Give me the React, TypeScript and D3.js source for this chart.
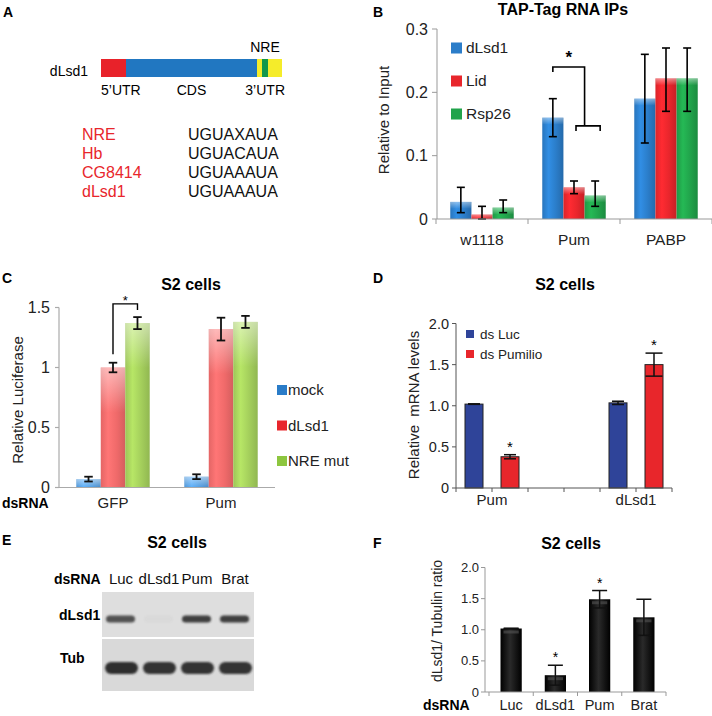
import React from "react";
import * as d3 from "d3";

const FONT = "'Liberation Sans', Arial, Helvetica, sans-serif";

// ---------- Panel A data ----------
const aSegmentNames = ["5’UTR", "CDS", "3’UTR-a", "NRE", "3’UTR-b"];
const aSegmentLengths = [25, 131, 5, 6, 14];
const aSegmentColors = ["#e8222a", "#2177c1", "#f5ec2a", "#12984a", "#f5ec2a"];
const aRegionLabels = ["5’UTR", "CDS", "3’UTR"];
const aMotifNames = ["NRE", "Hb", "CG8414", "dLsd1"];
const aMotifSeqs = ["UGUAXAUA", "UGUACAUA", "UGUAAAUA", "UGUAAAUA"];

// ---------- Panel B data ----------
const bCategories = ["w1118", "Pum", "PABP"];
const bSeries = ["dLsd1", "Lid", "Rsp26"];
const bValues = [
  [0.027, 0.007, 0.018],
  [0.16, 0.05, 0.037],
  [0.19, 0.222, 0.222],
];
const bErrLow = [
  [0.01, 0.0, 0.01],
  [0.13, 0.04, 0.02],
  [0.12, 0.17, 0.17],
];
const bErrHigh = [
  [0.05, 0.02, 0.03],
  [0.19, 0.06, 0.06],
  [0.26, 0.27, 0.27],
];
const bTicks = [0, 0.1, 0.2, 0.3];
const bTickLabels = ["0", "0.1", "0.2", "0.3"];
const bColors = ["#2b7dc9", "#e8262c", "#21a34b"];

// ---------- Panel C data ----------
const cCategories = ["GFP", "Pum"];
const cSeries = ["mock", "dLsd1", "NRE mut"];
const cValues = [
  [0.07, 1.0, 1.37],
  [0.09, 1.32, 1.38],
];
const cErr = [
  [0.02, 0.04, 0.05],
  [0.02, 0.095, 0.05],
];
const cTicks = [0, 0.5, 1, 1.5];
const cTickLabels = ["0", "0.5", "1", "1.5"];
const cColors = ["#4f9be0", "#f06a6a", "#a4cf5c"];
const cLegendColors = ["#2a7cc8", "#e8262c", "#8dc63f"];

// ---------- Panel D data ----------
const dGenes = ["Pum", "dLsd1"];
const dSeries = ["ds Luc", "ds Pumilio"];
const dValues = [
  [1.02, 0.38],
  [1.035, 1.5],
];
const dErr = [
  [0.003, 0.025],
  [0.02, 0.14],
];
const dSig = [
  [false, true],
  [false, true],
];
const dTicks = [0, 0.5, 1, 1.5, 2];
const dTickLabels = ["0", "0.5", "1.0", "1.5", "2.0"];
const dColors = ["#2f4499", "#e8262b"];

// ---------- Panel E data ----------
const eLanes = ["Luc", "dLsd1", "Pum", "Brat"];
const eRows = ["dLsd1", "Tub"];
const eDLsd1Intensity = [0.8, 0.025, 0.9, 0.9];
const eTubIntensity = [1, 0.97, 0.97, 0.97];

// ---------- Panel F data ----------
const fCategories = ["Luc", "dLsd1", "Pum", "Brat"];
const fValues = [1.02, 0.27, 1.49, 1.2];
const fErr = [0.005, 0.16, 0.14, 0.29];
const fSig = [false, true, true, false];
const fTicks = [0, 0.5, 1, 1.5, 2];
const fTickLabels = ["0", "0.5", "1.0", "1.5", "2.0"];

function ErrBar({ x, yTop, yBot, cap, sw = 1.5, color = "#000" }: any) {
  return (
    <g stroke={color} strokeWidth={sw} fill="none">
      <line x1={x} x2={x} y1={yTop} y2={yBot} />
      <line x1={x - cap / 2} x2={x + cap / 2} y1={yTop} y2={yTop} />
      <line x1={x - cap / 2} x2={x + cap / 2} y1={yBot} y2={yBot} />
    </g>
  );
}

function hGrad(id: string, c: string, light = 0.45, dark = 0.45) {
  const base = d3.color(c)!;
  return (
    <linearGradient id={id} key={id} x1="0" x2="1" y1="0" y2="0">
      <stop offset="0" stopColor={base.darker(dark * 0.4).formatHex()} />
      <stop offset="0.3" stopColor={base.brighter(light).formatHex()} />
      <stop offset="0.65" stopColor={base.formatHex()} />
      <stop offset="1" stopColor={base.darker(dark).formatHex()} />
    </linearGradient>
  );
}

function PanelA() {
  const total = d3.sum(aSegmentLengths);
  const x = d3.scaleLinear().domain([0, total]).range([101, 282]);
  const starts = d3.cumsum([0, ...aSegmentLengths]);
  const nreIdx = aSegmentNames.indexOf("NRE");
  const rowY = d3.scalePoint().domain(aMotifNames).range([140, 197]);
  return (
    <g>
      <text x={3} y={17} fontSize={14} fontWeight="bold">A</text>
      {aSegmentLengths.map((len, i) => (
        <rect key={i} x={x(starts[i])} y={59} width={x(starts[i] + len) - x(starts[i])} height={18} fill={aSegmentColors[i]} />
      ))}
      <text x={88} y={76} fontSize={14} textAnchor="end">dLsd1</text>
      <text x={(x(starts[nreIdx]) + x(starts[nreIdx + 1])) / 2} y={52} fontSize={14} textAnchor="middle">NRE</text>
      <text x={x(0)} y={95} fontSize={14}>{aRegionLabels[0]}</text>
      <text x={(x(starts[1]) + x(starts[2])) / 2} y={95} fontSize={14} textAnchor="middle">{aRegionLabels[1]}</text>
      <text x={x(total) + 3} y={95} fontSize={14} textAnchor="end">{aRegionLabels[2]}</text>
      {aMotifNames.map((n, i) => (
        <g key={n}>
          <text x={82} y={rowY(n)} fontSize={16} fill="#e8262c">{n}</text>
          <text x={188} y={rowY(n)} fontSize={16} fill="#111">{aMotifSeqs[i]}</text>
        </g>
      ))}
    </g>
  );
}

function PanelB() {
  const y = d3.scaleLinear().domain([0, 0.3]).range([219, 29]);
  const x0 = d3.scaleBand().domain(bCategories).range([436, 712]);
  const groupW = x0.bandwidth() * 0.69;
  const off = (x0.bandwidth() - groupW) / 2;
  const x1 = d3.scaleBand().domain(bSeries).range([0, groupW]);
  const bw = x1.bandwidth();
  const cx = (ci: number, si: number) => x0(bCategories[ci])! + off + x1(bSeries[si])! + bw / 2;
  const legendY = d3.scalePoint().domain(bSeries).range([48, 114]);
  const bounds = [...bCategories.map((c) => x0(c)!), x0.range()[1]];
  const pi = bCategories.indexOf("Pum");
  const lx = cx(pi, 0);
  const rmid = (cx(pi, 1) + cx(pi, 2)) / 2;
  const topY = y(0.24);
  const lowY = y(0.147);
  return (
    <g>
      <text x={373} y={17} fontSize={14} fontWeight="bold">B</text>
      <text x={563} y={15} fontSize={16} fontWeight="bold" textAnchor="middle">TAP-Tag RNA IPs</text>
      <text transform={`translate(383,120) rotate(-90)`} fontSize={15} textAnchor="middle" dominantBaseline="central" fill="#222">Relative to Input</text>
      {bValues.map((row, ci) =>
        row.map((v, si) => (
          <g key={`${ci}-${si}`}>
            <rect x={cx(ci, si) - bw / 2} y={y(v)} width={bw} height={y(0) - y(v)} fill={`url(#gB${si})`} />
            <rect x={cx(ci, si) - bw / 2} y={y(v)} width={bw} height={Math.min(7, y(0) - y(v))} fill="url(#shine)" />
          </g>
        ))
      )}
      {bValues.map((row, ci) =>
        row.map((v, si) => (
          <ErrBar key={`e${ci}-${si}`} x={cx(ci, si)} yTop={y(bErrHigh[ci][si])} yBot={y(bErrLow[ci][si])} cap={8} sw={1.6} />
        ))
      )}
      <g stroke="#999" strokeWidth={1}>
        <line x1={437} x2={437} y1={y(0.3)} y2={y(0)} />
        {bTicks.map((t) => (
          <line key={t} x1={432} x2={437} y1={y(t)} y2={y(t)} />
        ))}
        <line x1={437} x2={712} y1={y(0)} y2={y(0)} />
        {bounds.map((b, i) => (
          <line key={i} x1={b} x2={b} y1={y(0)} y2={y(0) + 5} />
        ))}
      </g>
      {bTicks.map((t, i) => (
        <text key={t} x={428} y={y(t)} dy="0.35em" fontSize={16} textAnchor="end" fill="#222">{bTickLabels[i]}</text>
      ))}
      {bCategories.map((c) => (
        <text key={c} x={x0(c)! + x0.bandwidth() / 2} y={245} fontSize={15.5} textAnchor="middle" fill="#222">{c}</text>
      ))}
      {bSeries.map((s, i) => (
        <g key={s}>
          <rect x={451} y={legendY(s)! - 5.5} width={11} height={11} fill={bColors[i]} />
          <text x={466} y={legendY(s)} dy="0.35em" fontSize={15.5} fill="#222">{s}</text>
        </g>
      ))}
      <g stroke="#000" strokeWidth={1.6} fill="none">
        <polyline points={`${lx},${topY + 5} ${lx},${topY} ${rmid},${topY} ${rmid},${lowY}`} />
        <polyline points={`${cx(pi, 1) + 2},${lowY + 5} ${cx(pi, 1) + 2},${lowY} ${cx(pi, 2) + 5},${lowY} ${cx(pi, 2) + 5},${lowY + 5}`} />
      </g>
      <text x={(lx + rmid) / 2} y={63} fontSize={17} textAnchor="middle" fontWeight="bold">*</text>
    </g>
  );
}

function PanelC() {
  const y = d3.scaleLinear().domain([0, 1.5]).range([487.5, 307.5]);
  const x0 = d3.scaleBand().domain(cCategories).range([59, 275]);
  const groupW = x0.bandwidth() * 0.68;
  const off = (x0.bandwidth() - groupW) / 2;
  const x1 = d3.scaleBand().domain(cSeries).range([0, groupW]);
  const bw = x1.bandwidth();
  const cx = (ci: number, si: number) => x0(cCategories[ci])! + off + x1(cSeries[si])! + bw / 2;
  const legendY = d3.scalePoint().domain(cSeries).range([390, 461]);
  const lx = cx(0, 1);
  const rx = cx(0, 2);
  return (
    <g>
      <text x={2} y={283} fontSize={14} fontWeight="bold">C</text>
      <text x={191} y={290} fontSize={16} fontWeight="bold" textAnchor="middle">S2 cells</text>
      <text transform={`translate(17,400) rotate(-90)`} fontSize={15} textAnchor="middle" dominantBaseline="central" fill="#222">Relative Luciferase</text>
      {cValues.map((row, ci) =>
        row.map((v, si) => (
          <g key={`${ci}-${si}`}>
            <rect x={cx(ci, si) - bw / 2} y={y(v)} width={bw} height={y(0) - y(v)} fill={`url(#gC${si})`} />
            <rect x={cx(ci, si) - bw / 2} y={y(v)} width={bw} height={Math.min(45, y(0) - y(v))} fill="url(#shineC)" />
          </g>
        ))
      )}
      {cValues.map((row, ci) =>
        row.map((v, si) => (
          <ErrBar key={`e${ci}-${si}`} x={cx(ci, si)} yTop={y(v + cErr[ci][si])} yBot={y(v - cErr[ci][si])} cap={8.5} sw={1.8} color="#111" />
        ))
      )}
      <g stroke="#aaa" strokeWidth={1.2}>
        <line x1={59} x2={59} y1={y(1.5)} y2={y(0)} />
        {cTicks.map((t) => (
          <line key={t} x1={55} x2={59} y1={y(t)} y2={y(t)} />
        ))}
        <line x1={59} x2={275} y1={y(0)} y2={y(0)} />
      </g>
      {cTicks.map((t, i) => (
        <text key={t} x={50} y={y(t)} dy="0.35em" fontSize={16} textAnchor="end" fill="#222">{cTickLabels[i]}</text>
      ))}
      <text x={2} y={508} fontSize={14} fontWeight="bold">dsRNA</text>
      {cCategories.map((c) => (
        <text key={c} x={x0(c)! + x0.bandwidth() / 2} y={508} fontSize={15} textAnchor="middle" fill="#222">{c}</text>
      ))}
      {cSeries.map((s, i) => (
        <g key={s}>
          <rect x={277} y={legendY(s)! - 5} width={10} height={10} fill={cLegendColors[i]} />
          <text x={288} y={legendY(s)} dy="0.35em" fontSize={15} fill="#222">{s}</text>
        </g>
      ))}
      <g stroke="#000" strokeWidth={1.4} fill="none">
        <polyline points={`${lx},${y(1.11)} ${lx},${y(1.53)} ${rx},${y(1.53)} ${rx},${y(1.48)}`} />
      </g>
      <text x={(lx + rx) / 2} y={305} fontSize={13} textAnchor="middle">*</text>
    </g>
  );
}

function PanelD() {
  const y = d3.scaleLinear().domain([0, 2]).range([488, 323.5]);
  const nSlots = 6;
  const slotScale = d3.scaleLinear().domain([0, nSlots]).range([456, 672]);
  const xs = d3.scaleBand<number>().domain(d3.range(nSlots)).range([456, 672]).paddingInner(0.5).paddingOuter(0.25);
  const bw = xs.bandwidth();
  const slotOf = (g: number, k: number) => g * 4 + k;
  const legendY = d3.scalePoint().domain(dSeries).range([334, 354]);
  return (
    <g>
      <text x={373} y={283} fontSize={14} fontWeight="bold">D</text>
      <text x={565} y={290} fontSize={16} fontWeight="bold" textAnchor="middle">S2 cells</text>
      <text transform={`translate(413,405) rotate(-90)`} fontSize={15} textAnchor="middle" dominantBaseline="central" fill="#222" style={{ whiteSpace: "pre" }}>{"Relative  mRNA levels"}</text>
      {dValues.map((row, g) =>
        row.map((v, k) => (
          <rect key={`${g}-${k}`} x={xs(slotOf(g, k))!} y={y(v)} width={bw} height={y(0) - y(v)} fill={dColors[k]} stroke="#222" strokeWidth={1} />
        ))
      )}
      {dValues.map((row, g) =>
        row.map((v, k) => (
          <ErrBar key={`e${g}-${k}`} x={xs(slotOf(g, k))! + bw / 2} yTop={y(v + dErr[g][k])} yBot={y(v - dErr[g][k])} cap={k === 1 && g === 1 ? 17 : 12} sw={1.5} color="#111" />
        ))
      )}
      {dValues.map((row, g) =>
        row.map((v, k) =>
          dSig[g][k] ? (
            <text key={`s${g}-${k}`} x={xs(slotOf(g, k))! + bw / 2} y={y(v + dErr[g][k]) - 3} fontSize={15} textAnchor="middle">*</text>
          ) : null
        )
      )}
      <g stroke="#555" strokeWidth={1}>
        <line x1={456} x2={456} y1={y(2)} y2={y(0)} />
        {dTicks.map((t) => (
          <line key={t} x1={452} x2={456} y1={y(t)} y2={y(t)} />
        ))}
        <line x1={456} x2={672} y1={y(0)} y2={y(0)} />
        {d3.range(nSlots + 1).map((i) => (
          <line key={i} x1={slotScale(i)} x2={slotScale(i)} y1={y(0)} y2={y(0) + 4} />
        ))}
      </g>
      {dTicks.map((t, i) => (
        <text key={t} x={449} y={y(t)} dy="0.35em" fontSize={14.5} textAnchor="end" fill="#222">{dTickLabels[i]}</text>
      ))}
      {dGenes.map((gname, g) => (
        <text key={gname} x={slotScale(g * 4 + 1)} y={505} fontSize={15} textAnchor="middle" fill="#222">{gname}</text>
      ))}
      {dSeries.map((s, i) => (
        <g key={s}>
          <rect x={466} y={legendY(s)! - 4} width={8} height={8} fill={dColors[i]} />
          <text x={480} y={legendY(s)} dy="0.35em" fontSize={13.5} fill="#222">{s}</text>
        </g>
      ))}
    </g>
  );
}

function PanelE() {
  const x = d3.scaleBand().domain(eLanes).range([102, 254]);
  const step = x.bandwidth();
  const rowTops = [592, 639];
  const rowBottoms = [637, 691];
  const bandY = [619, 668];
  const bandH = [7, 12];
  const intens = [eDLsd1Intensity, eTubIntensity];
  return (
    <g>
      <text x={2} y={545} fontSize={14} fontWeight="bold">E</text>
      <text x={177} y={548} fontSize={16} fontWeight="bold" textAnchor="middle">S2 cells</text>
      <text x={54} y={584} fontSize={14} fontWeight="bold">dsRNA</text>
      {eLanes.map((l) => (
        <text key={l} x={x(l)! + step / 2} y={584} fontSize={15} textAnchor="middle" fill="#111">{l}</text>
      ))}
      {eRows.map((r, ri) => (
        <g key={r}>
          <rect x={102} y={rowTops[ri]} width={152} height={rowBottoms[ri] - rowTops[ri]} fill={ri === 0 ? "#dedede" : "#d9d9d9"} />
          {eLanes.map((l, li) => (
            <rect key={l} x={x(l)! + 3 + (ri === 0 ? 1 : 0)} y={bandY[ri] - bandH[ri] / 2} width={step - (ri === 0 ? 9 : 5)} height={bandH[ri]} rx={bandH[ri] / 2}
              fill="#2e2e2e" opacity={intens[ri][li]} filter="url(#blur)" />
          ))}
        </g>
      ))}
      <text x={59} y={620} fontSize={14} fontWeight="bold">dLsd1</text>
      <text x={60} y={663} fontSize={14} fontWeight="bold">Tub</text>
    </g>
  );
}

function PanelF() {
  const y = d3.scaleLinear().domain([0, 2]).range([692, 567.5]);
  const x = d3.scaleBand().domain(fCategories).range([489, 666]).paddingInner(0.52).paddingOuter(0.26);
  const bw = x.bandwidth();
  const step = x.step();
  const startEdge = 489;
  return (
    <g>
      <text x={373} y={548} fontSize={14} fontWeight="bold">F</text>
      <text x={571} y={549} fontSize={16} fontWeight="bold" textAnchor="middle">S2 cells</text>
      <text transform={`translate(437,621) rotate(-90)`} fontSize={14} textAnchor="middle" dominantBaseline="central" fill="#222">dLsd1/ Tubulin ratio</text>
      {fValues.map((v, i) => (
        <g key={i}>
          <rect x={x(fCategories[i])!} y={y(v)} width={bw} height={y(0) - y(v)} fill="url(#gF)" />
          <rect x={x(fCategories[i])! + 3} y={y(v) + 2} width={bw - 6} height={Math.min(3, y(0) - y(v))} fill="#555" opacity={0.6} />
        </g>
      ))}
      {fValues.map((v, i) => (
        <ErrBar key={`e${i}`} x={x(fCategories[i])! + bw / 2} yTop={y(v + fErr[i])} yBot={y(v - fErr[i])} cap={15} sw={1.5} color="#111" />
      ))}
      {fValues.map((v, i) =>
        fSig[i] ? (
          <text key={`s${i}`} x={x(fCategories[i])! + bw / 2} y={y(v + fErr[i]) - 3} fontSize={14} textAnchor="middle">*</text>
        ) : null
      )}
      <g stroke="#999" strokeWidth={1}>
        <line x1={485} x2={485} y1={y(2)} y2={y(0)} />
        {fTicks.map((t) => (
          <line key={t} x1={481} x2={485} y1={y(t)} y2={y(t)} />
        ))}
        <line x1={485} x2={666} y1={y(0)} y2={y(0)} />
        {d3.range(fCategories.length + 1).map((i) => (
          <line key={i} x1={startEdge + i * step} x2={startEdge + i * step} y1={y(0)} y2={y(0) + 4} />
        ))}
      </g>
      {fTicks.map((t, i) => (
        <text key={t} x={479} y={y(t)} dy="0.35em" fontSize={13} textAnchor="end" fill="#222">{fTickLabels[i]}</text>
      ))}
      <text x={423} y={710} fontSize={14} fontWeight="bold">dsRNA</text>
      {fCategories.map((c) => (
        <text key={c} x={x(c)! + bw / 2} y={710} fontSize={14.5} textAnchor="middle" fill="#222">{c}</text>
      ))}
    </g>
  );
}

export default function App() {
  return (
    <svg width={712} height={716} style={{ position: "absolute", left: 0, top: 0, background: "#fff" }} fontFamily={FONT}>
      <defs>
        {bColors.map((c, i) => hGrad(`gB${i}`, c, 0.35, 0.45))}
        {cColors.map((c, i) => hGrad(`gC${i}`, c, 0.3, 0.35))}
        <linearGradient id="gF" x1="0" x2="1" y1="0" y2="0">
          <stop offset="0" stopColor="#000" />
          <stop offset="0.45" stopColor="#2a2a2a" />
          <stop offset="1" stopColor="#000" />
        </linearGradient>
        <linearGradient id="shine" x1="0" x2="0" y1="0" y2="1">
          <stop offset="0" stopColor="#fff" stopOpacity={0.45} />
          <stop offset="1" stopColor="#fff" stopOpacity={0} />
        </linearGradient>
        <linearGradient id="shineC" x1="0" x2="0" y1="0" y2="1">
          <stop offset="0" stopColor="#fff" stopOpacity={0.5} />
          <stop offset="1" stopColor="#fff" stopOpacity={0} />
        </linearGradient>
        <filter id="blur" x="-20%" y="-100%" width="140%" height="300%">
          <feGaussianBlur stdDeviation="1.3" />
        </filter>
      </defs>
      <rect x={0} y={0} width={712} height={716} fill="#fff" />
      <PanelA />
      <PanelB />
      <PanelC />
      <PanelD />
      <PanelE />
      <PanelF />
    </svg>
  );
}
